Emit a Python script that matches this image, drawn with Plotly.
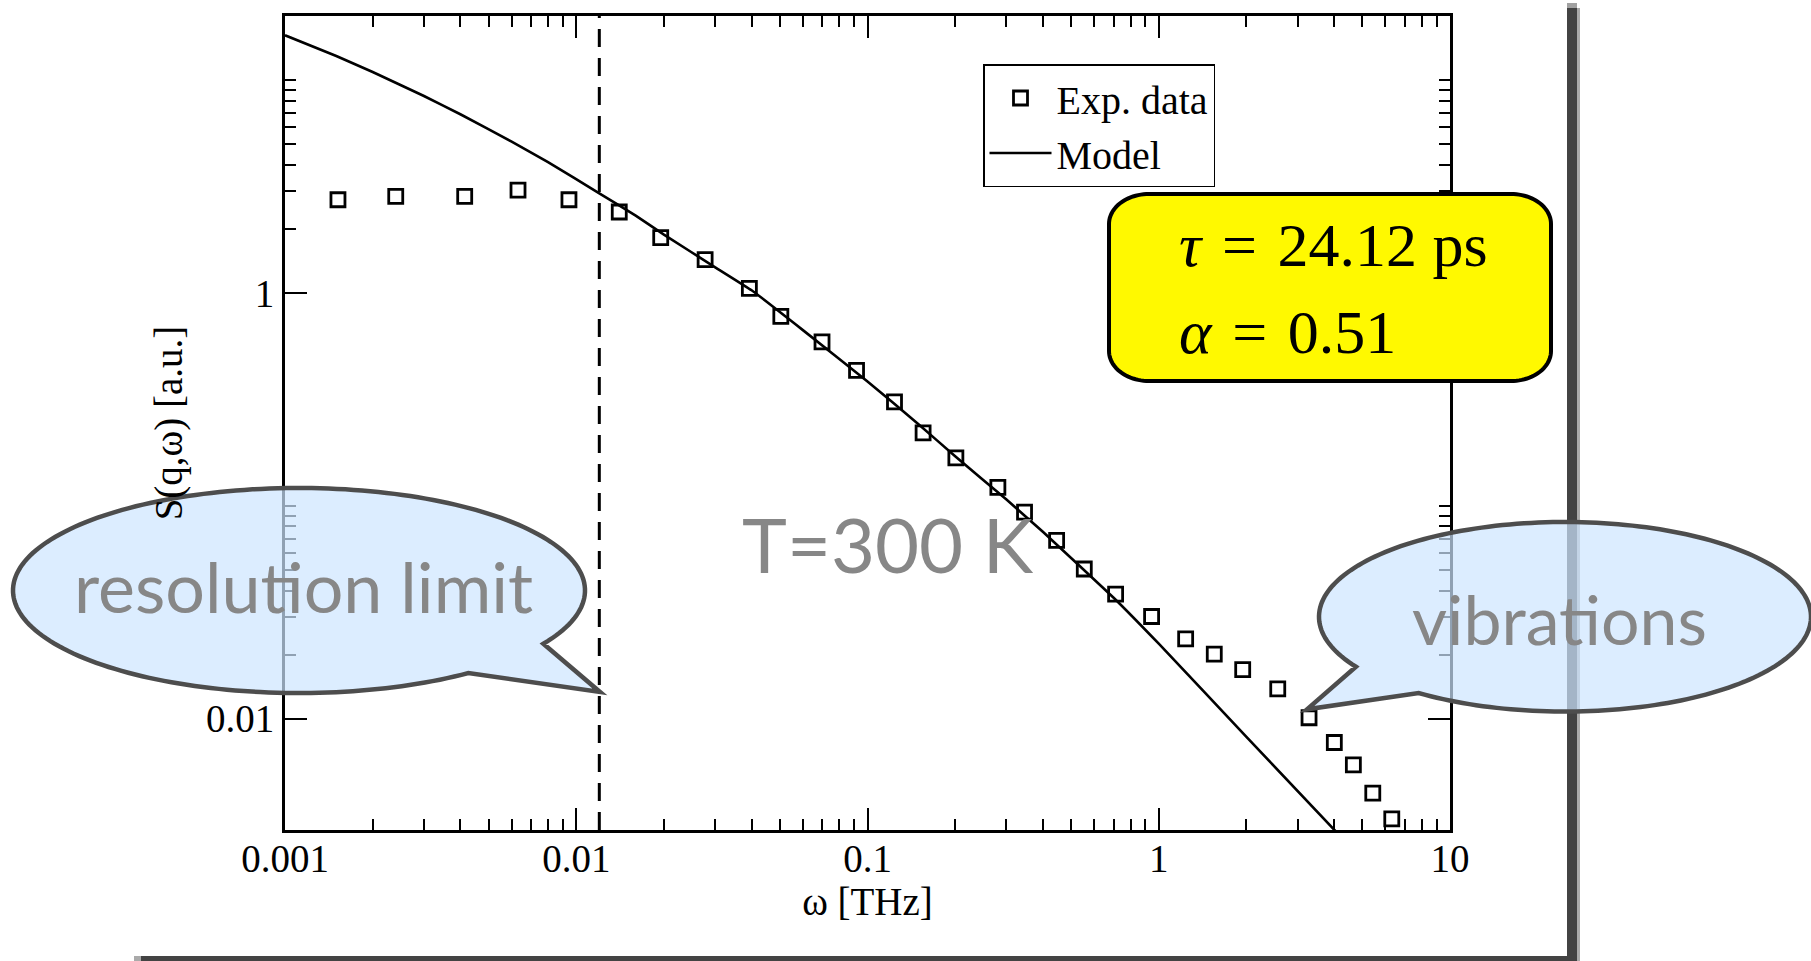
import numpy as np
import plotly.graph_objects as go

# Measured dynamic structure factor S(q, omega) versus frequency
omega_exp = [0.00152, 0.00240, 0.00414, 0.00631, 0.00944, 0.01405, 0.0195, 0.0277,
             0.0393, 0.0504, 0.0698, 0.0917, 0.1238, 0.1552, 0.2011, 0.2803, 0.3461,
             0.446, 0.555, 0.711, 0.945, 1.237, 1.551, 1.942, 2.562, 3.281, 4.007,
             4.658, 5.431, 6.311]
s_exp = [2.74, 2.84, 2.84, 3.04, 2.74, 2.40, 1.82, 1.434, 1.051, 0.776, 0.589, 0.433,
         0.308, 0.220, 0.168, 0.122, 0.0935, 0.0688, 0.0505, 0.0385, 0.0302, 0.0237,
         0.0201, 0.0170, 0.0138, 0.0101, 0.00773, 0.00607, 0.00447, 0.00338]

# Model curve (stretched-exponential relaxation spectrum)
omega_model = [0.001, 0.0015, 0.002, 0.003, 0.004, 0.006, 0.008, 0.012, 0.016, 0.02,
               0.03, 0.04, 0.06, 0.1, 0.15, 0.2, 0.3, 0.4, 0.7, 1.0, 2.0, 4.5]
s_model = [16.24, 12.98, 10.91, 8.42, 6.91, 5.14, 4.12, 2.935, 2.31, 1.88,
           1.32, 1.029, 0.669, 0.384, 0.241, 0.171, 0.107, 0.0755, 0.0370, 0.0225,
           0.00822, 0.00254]

# Instrumental resolution limit [THz]
resolution_limit = 0.012

# Axis ranges and ticks
x_range = [0.001, 10.0]
y_range = [0.003, 20.0]
x_tick_vals = [0.001, 0.01, 0.1, 1, 10]
x_tick_text = ["0.001", "0.01", "0.1", "1", "10"]
y_tick_vals = [0.01, 1]
y_tick_text = ["0.01", "1"]

fit_tau = "24.12 ps"
fit_alpha = "0.51"

# ---------------------------------------------------------------------------
W, H = 1811, 961
ML, MR, MT, MB = 285, 361, 16, 131
PW, PH = W - ML - MR, H - MT - MB


def px(xp):
    return (xp - ML) / PW


def py(yp):
    return (H - MB - yp) / PH


def path_from(points):
    parts = [f"{'M' if i == 0 else 'L'}{px(a):.5f},{py(b):.5f}" for i, (a, b) in enumerate(points)]
    return " ".join(parts) + " Z"


def bubble(cx, cy, rx, ry, a0, a1, tip, n=200):
    t = np.radians(np.linspace(a0, a1, n))
    pts = list(zip(cx + rx * np.cos(t), cy + ry * np.sin(t)))
    pts.append(tip)
    return path_from(pts)


def rounded_rect(x0, y0, x1, y1, rx, ry, n=24):
    pts = []
    corners = [(x1 - rx, y0 + ry, -90, 0), (x1 - rx, y1 - ry, 0, 90),
               (x0 + rx, y1 - ry, 90, 180), (x0 + rx, y0 + ry, 180, 270)]
    for cx, cy, a0, a1 in corners:
        t = np.radians(np.linspace(a0, a1, n))
        pts += list(zip(cx + rx * np.cos(t), cy + ry * np.sin(t)))
    return path_from(pts)


minor_x = [m * 10.0 ** e for e in range(-3, 1) for m in range(2, 10)]
minor_y = [m * 10.0 ** e for e in (-2, 0) for m in range(2, 11)]

serif = "Liberation Serif"
sans = "Lato"

fig = go.Figure()
fig.add_trace(go.Scatter(
    x=omega_exp, y=s_exp, mode="markers", name="Exp. data",
    marker=dict(symbol="square-open", size=14, color="black",
                line=dict(width=2.8, color="black")),
))
fig.add_trace(go.Scatter(
    x=omega_model, y=s_model, mode="lines", name="Model",
    line=dict(color="black", width=2.6, shape="spline", smoothing=0.3),
))
fig.add_trace(go.Scatter(
    x=[resolution_limit, resolution_limit], y=y_range, mode="lines",
    line=dict(color="black", width=3, dash="18px,11px"), showlegend=False,
))

axis_common = dict(
    type="log", showline=True, linecolor="black", linewidth=3, mirror="ticks",
    ticks="inside", ticklen=22, tickwidth=2, tickcolor="black",
    showgrid=False, zeroline=False, automargin=False,
    tickfont=dict(family=serif, size=39, color="black"),
)

fig.update_xaxes(
    **axis_common, range=[np.log10(x_range[0]), np.log10(x_range[1])],
    tickmode="array", tickvals=x_tick_vals, ticktext=x_tick_text, ticklabelstandoff=-8,
    minor=dict(tickmode="array", tickvals=minor_x, ticks="inside", ticklen=11,
               tickwidth=2, tickcolor="black", showgrid=False),
    title=dict(text="ω [THz]", font=dict(family=serif, size=39, color="black"), standoff=0),
)
fig.update_yaxes(
    **axis_common, range=[np.log10(y_range[0]), np.log10(y_range[1])],
    tickmode="array", tickvals=y_tick_vals, ticktext=y_tick_text,
    minor=dict(tickmode="array", tickvals=minor_y, ticks="inside", ticklen=11,
               tickwidth=2, tickcolor="black", showgrid=False),
    title=dict(text="S(q,ω) [a.u.]", font=dict(family=serif, size=39, color="black"), standoff=12),
)

shade = "#434343"
shapes = [
    # page frame shadow
    dict(type="rect", xref="paper", yref="paper", x0=px(1567), x1=px(1577), y0=py(H + 5), y1=py(8),
         fillcolor=shade, line=dict(width=0), layer="above"),
    dict(type="rect", xref="paper", yref="paper", x0=px(1577), x1=px(1580), y0=py(H + 5), y1=py(8),
         fillcolor="rgba(67,67,67,0.45)", line=dict(width=0), layer="above"),
    dict(type="rect", xref="paper", yref="paper", x0=px(1567), x1=px(1577), y0=py(8), y1=py(3),
         fillcolor="rgba(67,67,67,0.5)", line=dict(width=0), layer="above"),
    dict(type="rect", xref="paper", yref="paper", x0=px(141), x1=px(1567), y0=py(H + 5), y1=py(956),
         fillcolor=shade, line=dict(width=0), layer="above"),
    dict(type="rect", xref="paper", yref="paper", x0=px(134), x1=px(141), y0=py(H + 5), y1=py(956),
         fillcolor="rgba(67,67,67,0.45)", line=dict(width=0), layer="above"),
    # parameter box
    dict(type="path", xref="paper", yref="paper",
         path=rounded_rect(1109, 194, 1551, 381, 40, 30),
         fillcolor="#fff900", line=dict(color="black", width=4), layer="above"),
    # speech bubbles
    dict(type="path", xref="paper", yref="paper",
         path=bubble(299, 590.5, 286, 102.5, 31.3, 53.7 - 360, (600, 692)),
         fillcolor="rgba(205,230,255,0.7)", line=dict(color="#4d4d4d", width=4.5), layer="above"),
    dict(type="path", xref="paper", yref="paper",
         path=bubble(1565, 616.8, 246, 94.8, 148.2, 126.5 + 360, (1307, 709.3)),
         fillcolor="rgba(205,230,255,0.7)", line=dict(color="#4d4d4d", width=4.5), layer="above"),
]

gray = "#878787"
gap = " \u200a"
annotations = [
    dict(text="T=300 K", x=px(888), y=py(543), font=dict(family=sans, size=76, color=gray)),
    dict(text="resolution limit", x=px(303), y=py(586), font=dict(family=sans, size=70, color=gray)),
    dict(text="vibrations", x=px(1559), y=py(618), font=dict(family=sans, size=68, color=gray)),
    dict(text=f"<i>τ</i>{gap}={gap}{fit_tau}", x=px(1177), y=py(245), xanchor="left",
         font=dict(family=serif, size=62, color="black")),
    dict(text=f"<i>α</i>{gap}={gap}{fit_alpha}", x=px(1177), y=py(332), xanchor="left",
         font=dict(family=serif, size=62, color="black")),
]
for a in annotations:
    a.update(xref="paper", yref="paper", showarrow=False)
    a.setdefault("xanchor", "center")
    a.setdefault("yanchor", "middle")

fig.update_layout(
    width=W, height=H, autosize=False,
    margin=dict(l=ML, r=MR, t=MT, b=MB, pad=0),
    paper_bgcolor="white", plot_bgcolor="white",
    showlegend=True,
    legend=dict(x=px(983), y=py(64), xanchor="left", yanchor="top",
                bgcolor="white", bordercolor="black", borderwidth=1.5,
                font=dict(family=serif, size=40, color="black"),
                itemwidth=62, tracegroupgap=0),
    shapes=shapes, annotations=annotations,
)

fig.write_html("out.html")
